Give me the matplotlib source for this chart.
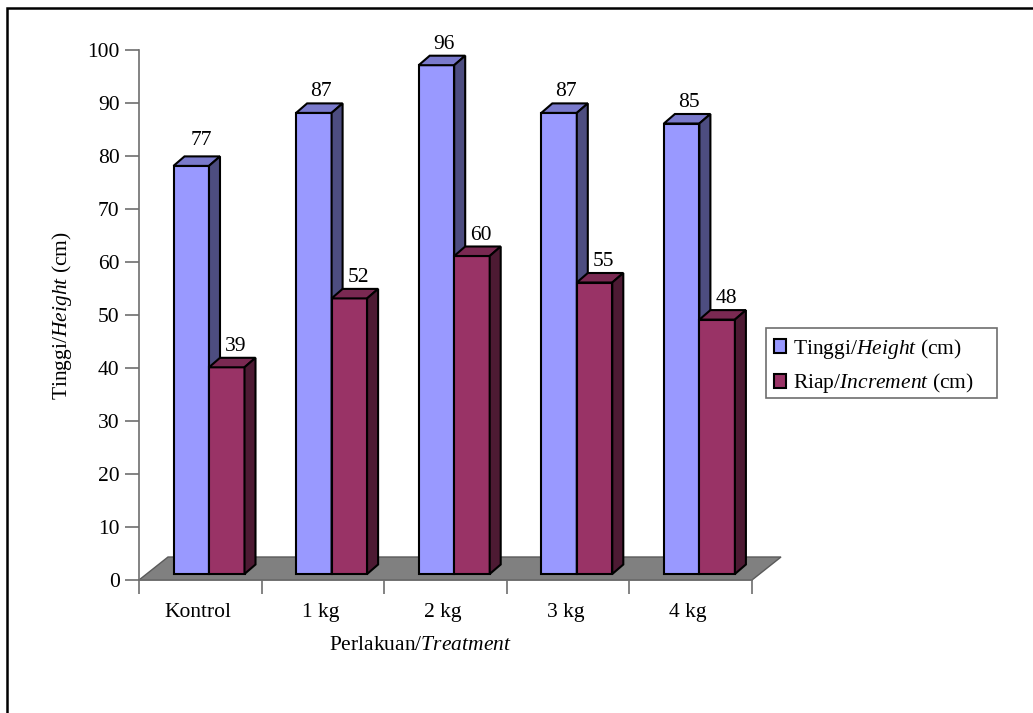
import matplotlib
matplotlib.use('Agg')
import matplotlib.pyplot as plt
from matplotlib.lines import Line2D
from matplotlib.patches import Polygon, Patch, Rectangle

plt.rcParams['font.family'] = ['Liberation Serif', 'DejaVu Serif']
plt.rcParams['mathtext.fontset'] = 'custom'
plt.rcParams['mathtext.rm'] = 'Liberation Serif'
plt.rcParams['mathtext.it'] = 'Liberation Serif:italic'

categories = ['Kontrol', '1 kg', '2 kg', '3 kg', '4 kg']
height = [77, 87, 96, 87, 85]
increment = [39, 52, 60, 55, 48]
y_ticks = list(range(0, 101, 10))

W, H = 1033, 713
ax_left, ax_right, ax_top, ax_bottom = 139, 752, 50, 580
FS = 15.5

fig = plt.figure(figsize=(W / 100, H / 100), dpi=100)
ax = fig.add_axes([ax_left / W, 1 - ax_bottom / H,
                   (ax_right - ax_left) / W, (ax_bottom - ax_top) / H])
ax.set_xlim(0, len(categories))
ax.set_ylim(0, 100)

# pixel sizes converted to data units
px_x = len(categories) / (ax_right - ax_left)
px_y = 100 / (ax_bottom - ax_top)
depth_x = 11 * px_x
depth_y = 9.5 * px_y
base = 6 * px_y
bar_w = 35.5 * px_x
bar_start = 34.5 * px_x


def draw_bar(x, value, front, top, side, gap=2, shift=-2):
    y = base + value
    ax.bar(x, value, bar_w, bottom=base, align='edge', color=front,
           edgecolor='black', linewidth=1.5, zorder=3)
    ax.add_patch(Polygon([(x, y), (x + depth_x, y + depth_y),
                          (x + bar_w + depth_x, y + depth_y), (x + bar_w, y)],
                         facecolor=top, edgecolor='black', linewidth=1.5,
                         clip_on=False, zorder=3))
    ax.add_patch(Polygon([(x + bar_w, base), (x + bar_w + depth_x, base + depth_y),
                          (x + bar_w + depth_x, y + depth_y), (x + bar_w, y)],
                         facecolor=side, edgecolor='black', linewidth=1.5,
                         clip_on=False, zorder=3))
    ax.text(x + bar_w / 2 + depth_x + shift * px_x, y + depth_y + gap * px_y, str(value),
            ha='center', va='bottom', fontsize=FS, zorder=4)


# floor of the 3D box
floor_dx = 29 * px_x
floor_dy = 23 * px_y
ax.add_patch(Polygon([(0, 0), (floor_dx, floor_dy),
                      (len(categories) + floor_dx, floor_dy), (len(categories), 0)],
                     facecolor='#808080', edgecolor='#5a5a5a', linewidth=1,
                     clip_on=False, zorder=1))

for i in range(len(categories)):
    # the first label sits a little higher than the others
    draw_bar(i + bar_start, height[i], '#9999FF', '#7A7ACC', '#4D4D80',
             gap=6.5 if i == 0 else 2, shift=-1 if i == 0 else -4)
    draw_bar(i + bar_start + bar_w, increment[i], '#993366', '#7A2952', '#4D1A33')

for name in ['top', 'right']:
    ax.spines[name].set_visible(False)
for name in ['left', 'bottom']:
    ax.spines[name].set_color('#6e6e6e')
    ax.spines[name].set_linewidth(1.2)

ax.set_yticks(y_ticks)
ax.set_xticks(range(len(categories) + 1))
ax.set_xticklabels([])
ax.set_xticks([i + 0.5 - 2.5 * px_x for i in range(len(categories))], categories, minor=True)
ax.tick_params(axis='y', labelsize=FS, length=10, width=1.2, color='#6e6e6e', pad=4)
ax.tick_params(axis='x', which='major', length=10, width=1.2, color='#6e6e6e')
ax.tick_params(axis='x', which='minor', length=0, labelsize=FS, pad=16.5)

fig.text(420 / W, 1 - 646 / H, 'Perlakuan/$\\mathit{Treatment}$', fontsize=FS,
         ha='center', va='center')
fig.text(62 / W, 1 - 316 / H, 'Tinggi/$\\mathit{Height}$ (cm)', fontsize=FS,
         rotation=90, ha='center', va='center')

# legend box is a separate rectangle so its size stays fixed
fig.add_artist(Rectangle((766 / W, 1 - 398 / H), 231 / W, 70 / H,
                         transform=fig.transFigure, facecolor='white',
                         edgecolor='#6e6e6e', linewidth=1.2))
handles = [Patch(facecolor='#9999FF', edgecolor='black', linewidth=1.5,
                 label='Tinggi/$\\mathit{Height}$ (cm)'),
           Patch(facecolor='#993366', edgecolor='black', linewidth=1.5,
                 label='Riap/$\\mathit{Increment}$ (cm)')]
fig.legend(handles=handles, loc='upper left',
           bbox_to_anchor=(766 / W, 1 - 329 / H),
           bbox_transform=fig.transFigure, frameon=False,
           fontsize=FS, handlelength=0.6, handleheight=0.62, handletextpad=0.32,
           labelspacing=0.5, borderpad=0.35, borderaxespad=0)

# only the top and left edges of the outer frame are present
fig.add_artist(Line2D([7 / W, 7 / W, 1], [0, 1 - 8 / H, 1 - 8 / H],
                      transform=fig.transFigure, color='black', linewidth=1.8,
                      solid_joinstyle='miter'))

fig.savefig('out.png', dpi=100)
